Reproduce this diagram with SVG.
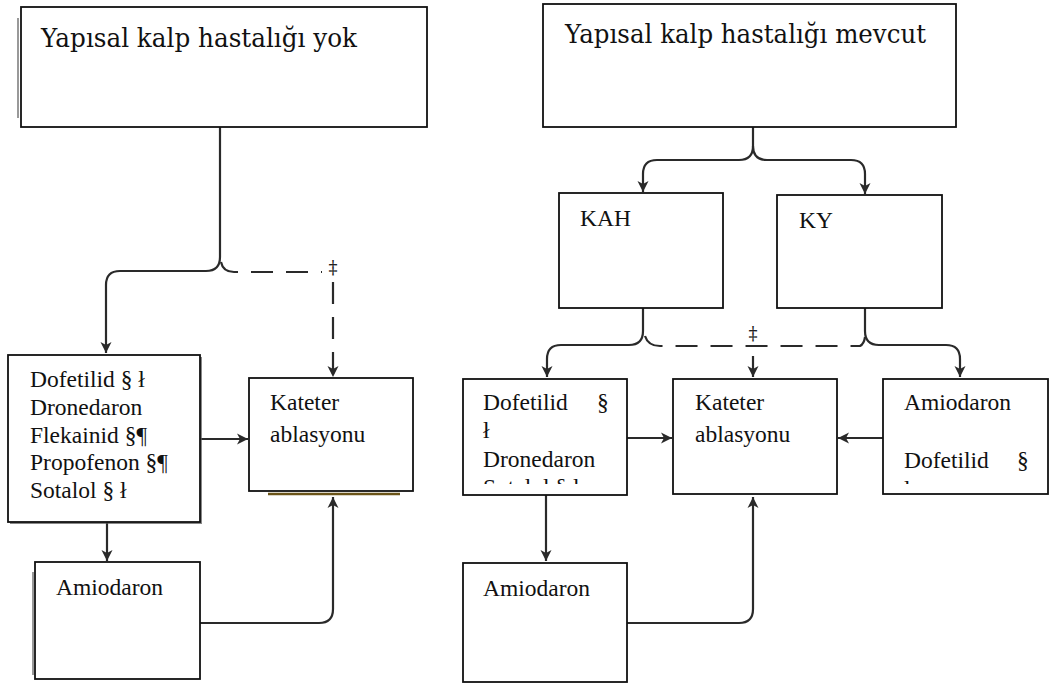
<svg xmlns="http://www.w3.org/2000/svg" width="1050" height="685" viewBox="0 0 1050 685">
<style>
.box{fill:#fff;stroke:#111;stroke-width:1.8}
.t{font-family:"Liberation Serif","Times New Roman",serif;font-size:23.5px;fill:#111}
.title{font-family:"DejaVu Serif","Liberation Serif",serif;font-size:26px;fill:#111}
.c{fill:none;stroke:#2a2a2a;stroke-width:2.2}
.d{fill:none;stroke:#2a2a2a;stroke-width:2.2;stroke-dasharray:22 13}
.dd{font-family:"DejaVu Serif","Liberation Serif",serif;font-size:18px;fill:#222;text-anchor:middle}
</style>
<defs>
<marker id="ah" markerUnits="userSpaceOnUse" markerWidth="14" markerHeight="14" refX="11" refY="5.5" orient="auto" overflow="visible">
<path d="M0,0 L11,5.5 L0,11 L3,5.5 Z" fill="#2a2a2a"/>
</marker>
<clipPath id="clipL"><rect x="463" y="379" width="164" height="105"/></clipPath>
<clipPath id="clipR"><rect x="883" y="379" width="165" height="105"/></clipPath>
</defs>

<g id="connectors">
<path class="c" d="M220,127 V257 Q220,271 206,271 H120 Q106,271 106,285 V353" marker-end="url(#ah)"/>
<path class="d" d="M221,262 Q223,272 234,272 H322"/>
<path class="d" d="M333,282 V377" marker-end="url(#ah)"/>
<path class="c" d="M200,439 H248" marker-end="url(#ah)"/>
<path class="c" d="M107,522 V561" marker-end="url(#ah)"/>
<path class="c" d="M200,623 H319 Q333,623 333,609 V497" marker-end="url(#ah)"/>
<path class="c" d="M753,127 V146 Q753,160 739,160 H657 Q643,160 643,174 V192" marker-end="url(#ah)"/>
<path class="c" d="M753,146 Q753,160 767,160 H851 Q865,160 865,174 V194" marker-end="url(#ah)"/>
<path class="c" d="M643,308 V331 Q643,345 629,345 H561 Q547,345 547,359 V377" marker-end="url(#ah)"/>
<path class="c" d="M865,308 V331 Q865,345 879,345 H946 Q960,345 960,359 V377" marker-end="url(#ah)"/>
<path class="d" d="M645,336 Q648,346 660,346 H860 Q864,344 865,337"/>
<path class="c" d="M753,356 V377" marker-end="url(#ah)"/>
<path class="c" d="M627,438 H672" marker-end="url(#ah)"/>
<path class="c" d="M883,438 H838" marker-end="url(#ah)"/>
<path class="c" d="M546,495 V561" marker-end="url(#ah)"/>
<path class="c" d="M627,623 H739 Q753,623 753,609 V497" marker-end="url(#ah)"/>
<text class="dd" x="333" y="274">‡</text>
<text class="dd" x="753" y="340">‡</text>
</g>

<g id="n-top-left">
<line x1="18" y1="18" x2="18" y2="118" stroke="#999" stroke-width="2"/>
<rect class="box" x="21" y="7" width="406" height="120"/>
<text class="title" x="41" y="47" textLength="316" lengthAdjust="spacingAndGlyphs">Yapısal kalp hastalığı yok</text>
</g>

<g id="n-top-right">
<rect class="box" x="543" y="4" width="413" height="123"/>
<text class="title" x="565" y="43" textLength="361" lengthAdjust="spacingAndGlyphs">Yapısal kalp hastalığı mevcut</text>
</g>

<g id="n-drugs-left">
<rect x="10" y="357" width="192" height="167" fill="#555" opacity="0.7"/>
<rect class="box" x="8" y="355" width="192" height="167"/>
<text class="t" x="30" y="387">Dofetilid § ł</text>
<text class="t" x="30" y="415">Dronedaron</text>
<text class="t" x="30" y="443">Flekainid §¶</text>
<text class="t" x="30" y="470">Propofenon §¶</text>
<text class="t" x="30" y="498">Sotalol § ł</text>
</g>

<g id="n-kateter-left">
<path d="M268,494 H400" stroke="#6b5418" stroke-width="2.5" fill="none"/>
<rect class="box" x="249" y="378" width="164" height="113"/>
<text class="t" x="270" y="410">Kateter</text>
<text class="t" x="270" y="442">ablasyonu</text>
</g>

<g id="n-amio-left">
<line x1="33" y1="572" x2="33" y2="675" stroke="#999" stroke-width="2"/>
<rect class="box" x="35" y="562" width="165" height="117"/>
<text class="t" x="56" y="595">Amiodaron</text>
</g>

<g id="n-kah">
<rect class="box" x="559" y="193" width="164" height="115"/>
<text class="t" x="580" y="226">KAH</text>
</g>

<g id="n-ky">
<rect class="box" x="777" y="195" width="165" height="113"/>
<text class="t" x="799" y="228">KY</text>
</g>

<g id="n-drugs-right">
<rect class="box" x="463" y="379" width="164" height="116"/>
<g clip-path="url(#clipL)">
<text class="t" x="483" y="410">Dofetilid</text>
<text class="t" x="597" y="410">§</text>
<text class="t" x="483" y="438">ł</text>
<text class="t" x="483" y="467">Dronedaron</text>
<text class="t" x="483" y="495">Sotalol § ł</text>
</g>
</g>

<g id="n-kateter-right">
<rect class="box" x="673" y="379" width="164" height="115"/>
<text class="t" x="695" y="410">Kateter</text>
<text class="t" x="695" y="442">ablasyonu</text>
</g>

<g id="n-ky-drugs">
<rect class="box" x="883" y="379" width="165" height="115"/>
<g clip-path="url(#clipR)">
<text class="t" x="904" y="410">Amiodaron</text>
<text class="t" x="904" y="468">Dofetilid</text>
<text class="t" x="1017" y="468">§</text>
<text class="t" x="904" y="497">ł</text>
</g>
</g>

<g id="n-amio-right">
<rect class="box" x="463" y="563" width="164" height="119"/>
<text class="t" x="483" y="596">Amiodaron</text>
</g>
</svg>
